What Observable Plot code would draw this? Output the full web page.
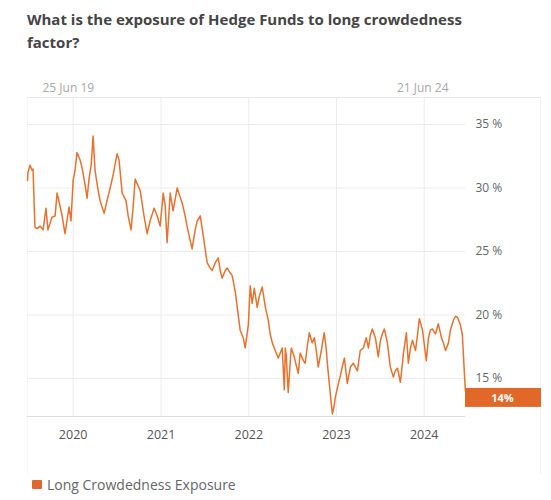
<!DOCTYPE html>
<html>
<head>
<meta charset="utf-8">
<script src="https://cdn.jsdelivr.net/npm/d3@7"></script>
<script src="https://cdn.jsdelivr.net/npm/@observablehq/plot@0.6"></script>
<style>
  body { margin: 0; background: #fff; font-family: "Open Sans", sans-serif; }
  #wrap { position: relative; width: 551px; height: 500px; overflow: hidden; background: #fff; }
  #title { position: absolute; left: 27px; top: 8px; width: 510px; font-size: 15px; font-weight: 700; color: #454545; line-height: 23px; }
  #frame { position: absolute; left: 27px; top: 97px; width: 512px; height: 376px; border-top: 1px solid #e9e9e9; border-right: 1px solid #f1f1f1; border-left: 1px solid #f6f6f6; }
  #chart { position: absolute; left: 0; top: 62px; }
  #legend { position: absolute; left: 32px; top: 474px; font-size: 14px; color: #666; display: flex; align-items: center; height: 20px; }
  #legend .sw { width: 10px; height: 9px; background: #dc6a30; border-radius: 1px; margin-right: 5px; }
</style>
</head>
<body>
<div id="wrap">
  <div id="title">What is the exposure of Hedge Funds to long crowdedness<br>factor?</div>
  <div id="frame"></div>
  <div id="chart"></div>
  <div id="legend"><div class="sw"></div><span id="legendLabel"></span></div>
</div>
<script>
const seriesName = "Long Crowdedness Exposure";
const dates = [
  "2019-06-25","2019-06-27","2019-07-05","2019-07-14","2019-07-18","2019-07-26","2019-08-04","2019-08-16","2019-08-29","2019-09-10",
  "2019-09-18","2019-10-05","2019-10-18","2019-10-26","2019-11-07","2019-11-16","2019-11-28","2019-12-15","2019-12-23","2020-01-01",
  "2020-01-09","2020-01-17","2020-01-30","2020-02-07","2020-02-20","2020-02-28","2020-03-07","2020-03-16","2020-03-24","2020-04-01",
  "2020-04-14","2020-04-22","2020-05-09","2020-05-21","2020-06-03","2020-06-15","2020-07-02","2020-07-10","2020-07-23","2020-08-08",
  "2020-08-17","2020-08-29","2020-09-07","2020-09-15","2020-10-06","2020-10-22","2020-11-04","2020-11-16","2020-12-03","2020-12-16",
  "2020-12-28","2021-01-10","2021-01-18","2021-01-26","2021-02-08","2021-02-20","2021-03-09","2021-03-21","2021-03-30","2021-04-11",
  "2021-04-20","2021-05-02","2021-05-10","2021-05-23","2021-05-31","2021-06-13","2021-06-25","2021-07-04","2021-07-12","2021-07-24",
  "2021-08-02","2021-08-14","2021-08-27","2021-09-04","2021-09-12","2021-09-25","2021-10-03","2021-10-16","2021-10-24","2021-11-06",
  "2021-11-18","2021-11-26","2021-12-09","2021-12-17","2021-12-30","2022-01-07","2022-01-15","2022-01-24","2022-02-05","2022-02-14",
  "2022-02-26","2022-03-11","2022-03-23","2022-03-31","2022-04-09","2022-04-21","2022-05-04","2022-05-12","2022-05-20","2022-05-29",
  "2022-06-02","2022-06-06","2022-06-14","2022-06-23","2022-06-27","2022-07-09","2022-07-18","2022-07-26","2022-08-03","2022-08-16",
  "2022-08-24","2022-09-02","2022-09-10","2022-09-22","2022-10-01","2022-10-09","2022-10-17","2022-10-30","2022-11-11","2022-11-20",
  "2022-11-24","2022-12-02","2022-12-11","2022-12-15","2022-12-23","2022-12-27","2023-01-09","2023-01-17","2023-01-25","2023-02-03",
  "2023-02-15","2023-02-28","2023-03-12","2023-03-29","2023-04-10","2023-04-23","2023-05-05","2023-05-14","2023-05-22","2023-05-30",
  "2023-06-12","2023-06-24","2023-07-03","2023-07-11","2023-07-19","2023-08-01","2023-08-13","2023-08-26","2023-09-03","2023-09-12",
  "2023-09-24","2023-10-07","2023-10-19","2023-10-27","2023-11-05","2023-11-13","2023-11-26","2023-12-04","2023-12-12","2023-12-25",
  "2024-01-02","2024-01-10","2024-01-19","2024-01-27","2024-02-04","2024-02-17","2024-02-29","2024-03-13","2024-03-21","2024-03-30",
  "2024-04-11","2024-04-19","2024-05-02","2024-05-10","2024-05-19","2024-05-31","2024-06-08","2024-06-17","2024-06-21"
];
const values = [
  30.6,31.2,31.8,31.4,31.5,26.9,26.8,27.0,26.7,28.4,
  26.7,27.7,27.8,29.6,28.6,27.8,26.4,28.5,27.4,30.6,
  31.4,32.8,32.2,31.6,30.2,29.2,30.7,31.8,34.1,31.4,
  29.8,29.0,28.0,29.0,30.0,31.0,32.7,32.2,29.6,29.0,
  27.8,26.7,28.6,30.7,29.8,27.8,26.4,27.4,28.4,27.8,
  27.0,29.6,28.6,25.7,29.6,28.2,30.0,29.3,28.8,27.8,
  26.9,25.9,25.2,26.7,27.4,27.8,26.3,25.1,24.1,23.7,
  23.5,24.1,24.5,23.5,22.9,23.5,23.7,23.3,23.1,21.8,
  20.0,18.8,18.2,17.4,19.2,22.3,20.9,22.1,20.6,21.5,
  22.2,20.6,19.6,18.5,17.8,17.2,16.6,17.0,17.4,14.1,
  17.4,16.8,13.9,16.4,17.4,16.7,16.0,15.4,17.0,16.4,
  16.2,17.6,18.6,17.8,18.2,17.2,15.9,17.2,18.6,17.2,
  16.2,14.6,12.9,12.2,12.9,13.5,14.6,15.2,15.9,16.6,
  14.6,15.9,16.2,15.6,17.2,17.4,18.2,17.4,18.4,18.9,
  18.2,16.7,18.0,18.5,18.9,17.8,15.9,15.1,15.6,15.8,
  14.7,17.0,18.6,16.2,17.4,18.0,17.2,18.4,19.7,18.8,
  17.6,16.4,18.2,18.8,18.9,18.5,19.3,18.2,17.8,17.2,
  17.8,18.8,19.6,19.9,19.8,19.2,18.4,15.2,14.0
];
const yTicks = [15, 20, 25, 30, 35];
const yearTicks = ["2020-01-01","2021-01-01","2022-01-01","2023-01-01","2024-01-01"];

const data = dates.map((d, i) => ({date: new Date(d), value: values[i]}));
const first = data[0], last = data[data.length - 1];
const fmtShort = d3.utcFormat("%d %b %y");
const lineColor = "#e7722f";
const badgeColor = "#e2682a";

document.getElementById("legendLabel").textContent = seriesName;

const chart = Plot.plot({
  width: 551,
  height: 410,
  marginTop: 36,
  marginBottom: 56,
  marginLeft: 27,
  marginRight: 86,
  style: {fontFamily: "Open Sans, sans-serif", fontSize: "12px", color: "#666", background: "transparent"},
  x: {type: "utc", domain: [first.date, last.date]},
  y: {domain: [12, 37.05]},
  marks: [
    Plot.gridX(yearTicks.map(d => new Date(d)), {stroke: "#ececec", strokeOpacity: 1}),
    Plot.gridY(yTicks, {stroke: "#ececec", strokeOpacity: 1}),
    Plot.ruleY([12], {stroke: "#dedede"}),
    Plot.axisY(yTicks, {anchor: "right", tickSize: 0, tickPadding: 10, tickFormat: d => d + " %", fill: "#666", fontSize: 12, label: null}),
    Plot.axisX(yearTicks.map(d => new Date(d)), {anchor: "bottom", tickSize: 0, tickPadding: 14, tickFormat: "%Y", fill: "#555", fontSize: 12.5, label: null}),
    Plot.text([first], {x: "date", frameAnchor: "top", text: d => fmtShort(d.date), textAnchor: "start", dx: 15, dy: -15, fill: "#a8a8a8", fontSize: 12}),
    Plot.text([last], {x: "date", frameAnchor: "top", text: d => fmtShort(d.date), textAnchor: "end", dx: -17, dy: -15, fill: "#a8a8a8", fontSize: 12}),
    Plot.line(data, {x: "date", y: "value", stroke: lineColor, strokeWidth: 1.5, strokeLinejoin: "round"}),
    Plot.rect([last], {x1: "date", x2: "date", y1: "value", y2: "value", fill: badgeColor, insetLeft: 0, insetRight: -76, insetTop: -2.7, insetBottom: -16.3}),
    Plot.text([last], {x: "date", y: "value", text: d => Math.round(d.value) + "%", dx: 37, dy: 7.5, fill: "#fff", fontWeight: "bold", fontSize: 11})
  ]
});
document.getElementById("chart").appendChild(chart);
</script>
</body>
</html>
